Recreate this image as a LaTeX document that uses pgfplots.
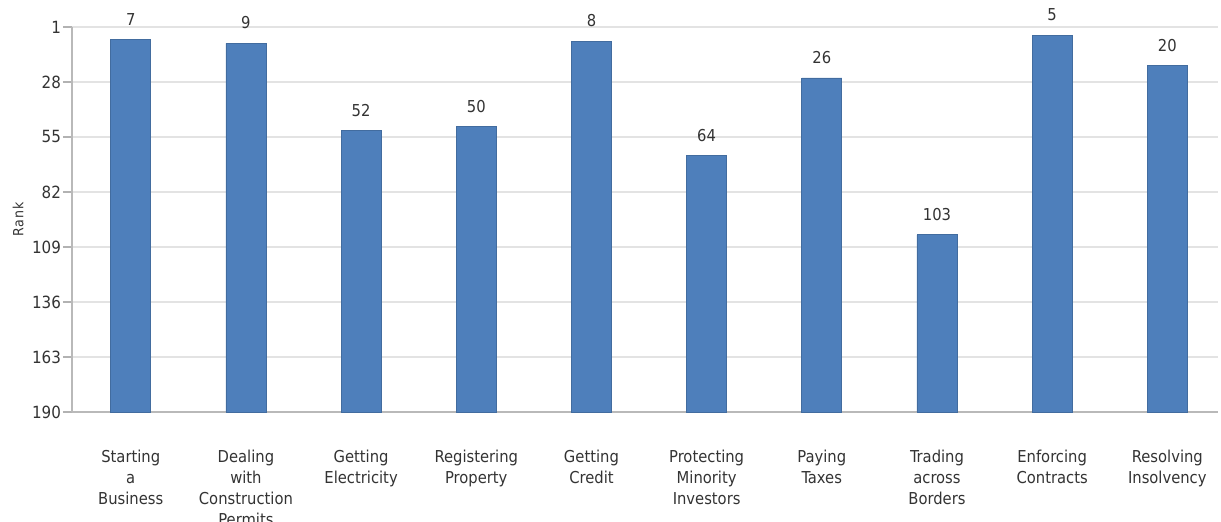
\documentclass[border=0pt]{standalone}
\usepackage{pgfplots}
\pgfplotsset{compat=1.18}
\usepackage{pgfplotstable}
\usepackage{fontspec}
\setmainfont{DejaVu Sans Condensed}
\definecolor{barblue}{HTML}{4E7FBB}
\definecolor{txt}{HTML}{333333}
\pgfplotstableread{
x rank
0 7
1 9
2 52
3 50
4 8
5 64
6 26
7 103
8 5
9 20
}\ranks
\begin{document}
\begin{tikzpicture}
\begin{axis}[
  scale only axis, width=573pt, height=192.5pt,
  xmin=-0.51, xmax=9.44, ymin=0, ymax=189,
  ytick={0,27,...,189},
  yticklabels={190,163,136,109,82,55,28,1},
  xtick={0,...,9},
  xticklabels={{Starting\\a\\Business},{Dealing\\with\\Construction\\Permits},{Getting\\Electricity},{Registering\\Property},{Getting\\Credit},{Protecting\\Minority\\Investors},{Paying\\Taxes},{Trading\\across\\Borders},{Enforcing\\Contracts},{Resolving\\Insolvency}},
  xticklabel style={align=center, font=\fontsize{8.2}{10.5}\selectfont, text=txt, yshift=-11pt},
  yticklabel style={font=\fontsize{8.4}{10}\selectfont, text=txt, xshift=2.5pt},
  x tick style={draw=none},
  y tick style={draw=gray!60, line width=0.6pt},
  tick align=outside, major tick length=4.5pt,
  axis x line*=bottom, axis y line*=left,
  axis line style={draw=gray!55, line width=0.6pt},
  ymajorgrids, grid style={draw=gray!22, line width=0.6pt},
  ylabel={\addfontfeature{LetterSpace=8}Rank},
  ylabel style={font=\fontsize{7}{8}\selectfont, text=txt, at={(axis description cs:-0.047,0.5)}, anchor=center},
  /pgf/number format/assume math mode=true,
  clip=false,
]
\addplot[ybar, bar width=20pt, fill=barblue, draw=barblue!85!black, line width=0.4pt,
  nodes near coords, point meta=explicit,
  every node near coord/.append style={font=\fontsize{8.2}{10}\selectfont, text=txt, yshift=3.5pt}]
  table[x=x, y expr=190-\thisrow{rank}, meta=rank] {\ranks};
\end{axis}
\pgfresetboundingbox
\path[use as bounding box] ([xshift=-36pt,yshift=-55pt]current axis.south west) rectangle ([xshift=1.5pt,yshift=13.5pt]current axis.north east);
\end{tikzpicture}
\end{document}
